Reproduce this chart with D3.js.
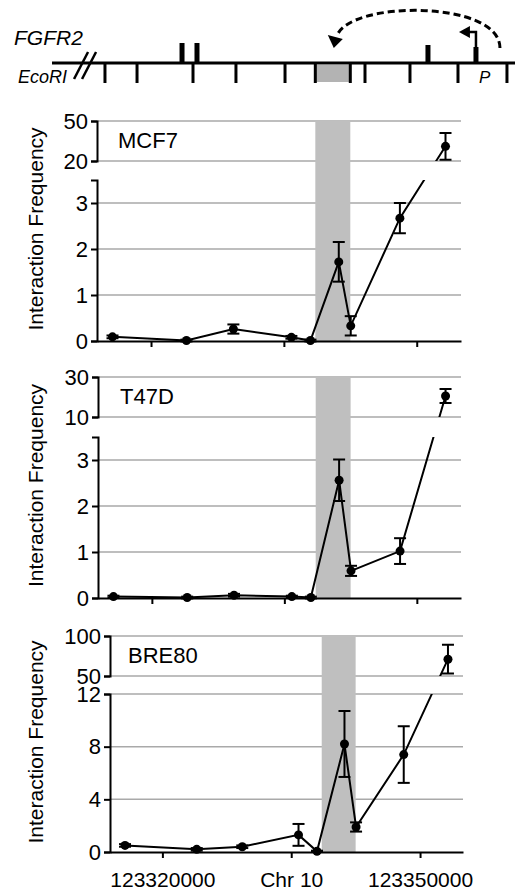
<!DOCTYPE html>
<html>
<head>
<meta charset="utf-8">
<script src="https://cdn.jsdelivr.net/npm/d3@7"></script>
<style>
  body { margin: 0; background: #fff; }
  svg { display: block; font-family: "Liberation Sans", Arial, sans-serif; }
</style>
</head>
<body>
<script>
// chr10 coordinates of the 3C fragments (bp)
const positions = [123315650, 123324000, 123329300, 123335850, 123338000, 123341200, 123342550, 123348100, 123353250]
const xDomain = [123313900, 123355000]
const xTicks = [123320000, 123335000, 123350000]
const xTickLabels = ['123320000', 'Chr 10', '123350000']
const baitRegion = [123338550, 123342500]

// FGFR2 EcoRI map
const mapSpan = [123308820, 123361100]
const mapBreak = 123312550
const ecoriSites = [123314800, 123318420, 123324740, 123329590, 123335130, 123338550, 123342500, 123344160, 123349240, 123354660, 123360190]
const exons = [123323500, 123325190, 123351270]
const tss = 123356690

// interaction frequencies
const mcf7Values = [0.09, 0.01, 0.26, 0.08, 0.01, 1.72, 0.33, 2.67, 31]
const mcf7Errors = [0.03, 0.02, 0.1, 0.03, 0.02, 0.43, 0.21, 0.33, 10]
const t47dValues = [0.03, 0.01, 0.06, 0.03, 0.01, 2.56, 0.59, 1.02, 20.5]
const t47dErrors = [0.02, 0.02, 0.03, 0.02, 0.02, 0.45, 0.11, 0.28, 3.5]
const bre80Values = [0.5, 0.2, 0.4, 1.3, 0.05, 8.2, 1.9, 7.4, 71]
const bre80Errors = [0.1, 0.1, 0.1, 0.83, 0.05, 2.5, 0.35, 2.15, 18]

const mcf7LowTicks = [0, 1, 2, 3], mcf7HighTicks = [20, 50]
const t47dLowTicks = [0, 1, 2, 3], t47dHighTicks = [10, 30]
const bre80LowTicks = [0, 4, 8, 12], bre80HighTicks = [50, 100]

const W = 515, H = 893
const svg = d3.select('body').append('svg').attr('width', W).attr('height', H)

// gene map on top
const drawMap = () => {
  const x = d3.scaleLinear().domain(xDomain).range([97, 461])
  const lineY = 63
  const g = svg.append('g')

  g.append('line')
    .attr('x1', x(mapSpan[0])).attr('x2', x(mapSpan[1]))
    .attr('y1', lineY).attr('y2', lineY)
    .attr('stroke', '#000').attr('stroke-width', 3)

  // bait fragment
  g.append('rect')
    .attr('x', x(baitRegion[0])).attr('width', x(baitRegion[1]) - x(baitRegion[0]))
    .attr('y', lineY + 2).attr('height', 17)
    .attr('fill', '#b3b3b3')

  g.selectAll('.site')
    .data(ecoriSites)
    .enter()
    .append('line')
    .attr('class', 'site')
    .attr('x1', d => x(d)).attr('x2', d => x(d))
    .attr('y1', lineY).attr('y2', lineY + 20)
    .attr('stroke', '#000').attr('stroke-width', 3)

  g.selectAll('.exon')
    .data(exons)
    .enter()
    .append('rect')
    .attr('class', 'exon')
    .attr('x', d => x(d) - 2.5).attr('width', 5)
    .attr('y', (d, i) => i < 2 ? lineY - 20 : lineY - 18)
    .attr('height', (d, i) => i < 2 ? 20 : 18)

  // break mark
  const bx = x(mapBreak)
  ;[-4, 4].forEach(o => {
    g.append('line')
      .attr('x1', bx + o - 7).attr('y1', lineY + 16)
      .attr('x2', bx + o + 7).attr('y2', lineY - 11)
      .attr('stroke', '#000').attr('stroke-width', 2.5)
  })

  // promoter with arrow
  const tx = x(tss)
  g.append('rect').attr('x', tx - 2.5).attr('width', 5).attr('y', lineY - 16).attr('height', 16)
  g.append('path')
    .attr('d', `M${tx},${lineY - 16}V32H${tx - 8}`)
    .attr('fill', 'none').attr('stroke', '#000').attr('stroke-width', 2.5)
  g.append('path')
    .attr('d', `M${tx - 17},32L${tx - 6},26L${tx - 6},38Z`)

  // dashed looping arc from promoter to bait
  const fx = (x(baitRegion[0]) + x(baitRegion[1])) / 2
  const p = d3.path()
  p.moveTo(tx + 24, 48)
  p.bezierCurveTo(tx + 24, 0, fx + 17, 0, fx + 4, 36)
  g.append('path')
    .attr('d', p.toString())
    .attr('fill', 'none').attr('stroke', '#000').attr('stroke-width', 3)
    .attr('stroke-dasharray', '7,4')
  g.append('path')
    .attr('d', `M${fx + 1},48L${fx - 5},35L${fx + 10},39Z`)

  g.append('text').attr('x', 14).attr('y', 45)
    .attr('font-size', 21).attr('font-style', 'italic').text('FGFR2')
  g.append('text').attr('x', 18).attr('y', 83)
    .attr('font-size', 18).attr('font-style', 'italic').text('EcoRI')
  g.append('text').attr('x', 479).attr('y', 83)
    .attr('font-size', 17).attr('font-style', 'italic').text('P')
}

const drawPanel = (p) => {
  const x = d3.scaleLinear().domain(xDomain).range([p.left, p.right])
  const lowMax = p.lowTicks === bre80LowTicks ? 12 : 3.5
  const y = d3.scaleLinear()
    .domain([0, lowMax, p.highTicks[0], p.highTicks[1]])
    .range([p.bottom, p.lo, p.hi, p.top])
  const yLow = d3.scaleLinear().domain([0, lowMax]).range([p.bottom, p.lo])
  const yHigh = d3.scaleLinear().domain(p.highTicks).range([p.hi, p.top])
  const g = svg.append('g')

  // gridlines
  g.selectAll('.grid')
    .data(p.lowTicks.filter(d => d > 0).concat(p.highTicks))
    .enter()
    .append('line')
    .attr('class', 'grid')
    .attr('x1', p.left).attr('x2', p.right)
    .attr('y1', d => y(d)).attr('y2', d => y(d))
    .attr('stroke', '#a9a9a9').attr('stroke-width', 1.5)

  // bait region
  g.append('rect')
    .attr('x', x(baitRegion[0])).attr('width', x(baitRegion[1]) - x(baitRegion[0]))
    .attr('y', p.top).attr('height', p.bottom - p.top)
    .attr('fill', '#bfbfbf')

  // y axes, broken
  const styleAxis = (a, size) => {
    a.attr('font-size', size || 22).attr('font-family', null)
    a.selectAll('path, line').attr('stroke-width', 2)
    a.selectAll('text').attr('fill', '#000')
  }
  g.append('g').attr('transform', `translate(${p.left},0)`)
    .call(d3.axisLeft(yLow).tickValues(p.lowTicks).tickSize(6).tickPadding(3).tickFormat(d3.format('d')))
    .call(styleAxis)
  g.append('g').attr('transform', `translate(${p.left},0)`)
    .call(d3.axisLeft(yHigh).tickValues(p.highTicks).tickSize(6).tickPadding(3).tickFormat(d3.format('d')))
    .call(styleAxis)

  // x axis
  g.append('g').attr('transform', `translate(0,${p.bottom})`)
    .call(d3.axisBottom(x).tickValues(xTicks).tickSize(6).tickSizeOuter(0).tickPadding(14)
      .tickFormat((d, i) => p.xLabels ? xTickLabels[i] : ''))
    .call(styleAxis, 21)

  // data, clipped at the axis break
  const clip = g.append('clipPath').attr('id', 'clip-' + p.name)
  clip.append('rect').attr('x', 0).attr('width', W).attr('y', p.top - 40).attr('height', p.hi - p.top + 40)
  clip.append('rect').attr('x', 0).attr('width', W).attr('y', p.lo).attr('height', p.bottom - p.lo + 12)
  const d = g.append('g').attr('clip-path', `url(#clip-${p.name})`)

  const line = d3.line().x((v, i) => x(positions[i])).y(v => y(v))
  d.append('path').datum(p.values)
    .attr('d', line)
    .attr('fill', 'none').attr('stroke', '#000').attr('stroke-width', 2)

  const bars = d.selectAll('.err')
    .data(p.values)
    .enter()
    .append('g')
    .attr('class', 'err')
    .attr('stroke', '#000').attr('stroke-width', 2)
  bars.append('line')
    .attr('x1', (v, i) => x(positions[i])).attr('x2', (v, i) => x(positions[i]))
    .attr('y1', (v, i) => y(v - p.errors[i])).attr('y2', (v, i) => y(v + p.errors[i]))
  ;[1, -1].forEach(s => {
    bars.append('line')
      .attr('x1', (v, i) => x(positions[i]) - 6).attr('x2', (v, i) => x(positions[i]) + 6)
      .attr('y1', (v, i) => y(v + s * p.errors[i])).attr('y2', (v, i) => y(v + s * p.errors[i]))
  })

  d.selectAll('circle')
    .data(p.values)
    .enter()
    .append('circle')
    .attr('cx', (v, i) => x(positions[i]))
    .attr('cy', v => y(v))
    .attr('r', 4.5)

  // labels
  g.append('text').attr('x', p.left + p.labelDx).attr('y', p.top + 26.5)
    .attr('font-size', 22).text(p.name)
  g.append('text')
    .attr('transform', `translate(43,${(p.top + p.bottom) / 2 - 2}) rotate(-90)`)
    .attr('text-anchor', 'middle').attr('font-size', 21)
    .text('Interaction Frequency')
}

drawMap()
drawPanel({ name: 'MCF7', values: mcf7Values, errors: mcf7Errors, lowTicks: mcf7LowTicks, highTicks: mcf7HighTicks,
  left: 97, right: 461, top: 121, hi: 161, lo: 180, bottom: 341, labelDx: 21, xLabels: false })
drawPanel({ name: 'T47D', values: t47dValues, errors: t47dErrors, lowTicks: t47dLowTicks, highTicks: t47dHighTicks,
  left: 98, right: 461, top: 377, hi: 417, lo: 437, bottom: 598, labelDx: 22, xLabels: false })
drawPanel({ name: 'BRE80', values: bre80Values, errors: bre80Errors, lowTicks: bre80LowTicks, highTicks: bre80HighTicks,
  left: 110, right: 463, top: 636, hi: 676, lo: 694, bottom: 852, labelDx: 18, xLabels: true })
</script>
</body>
</html>
